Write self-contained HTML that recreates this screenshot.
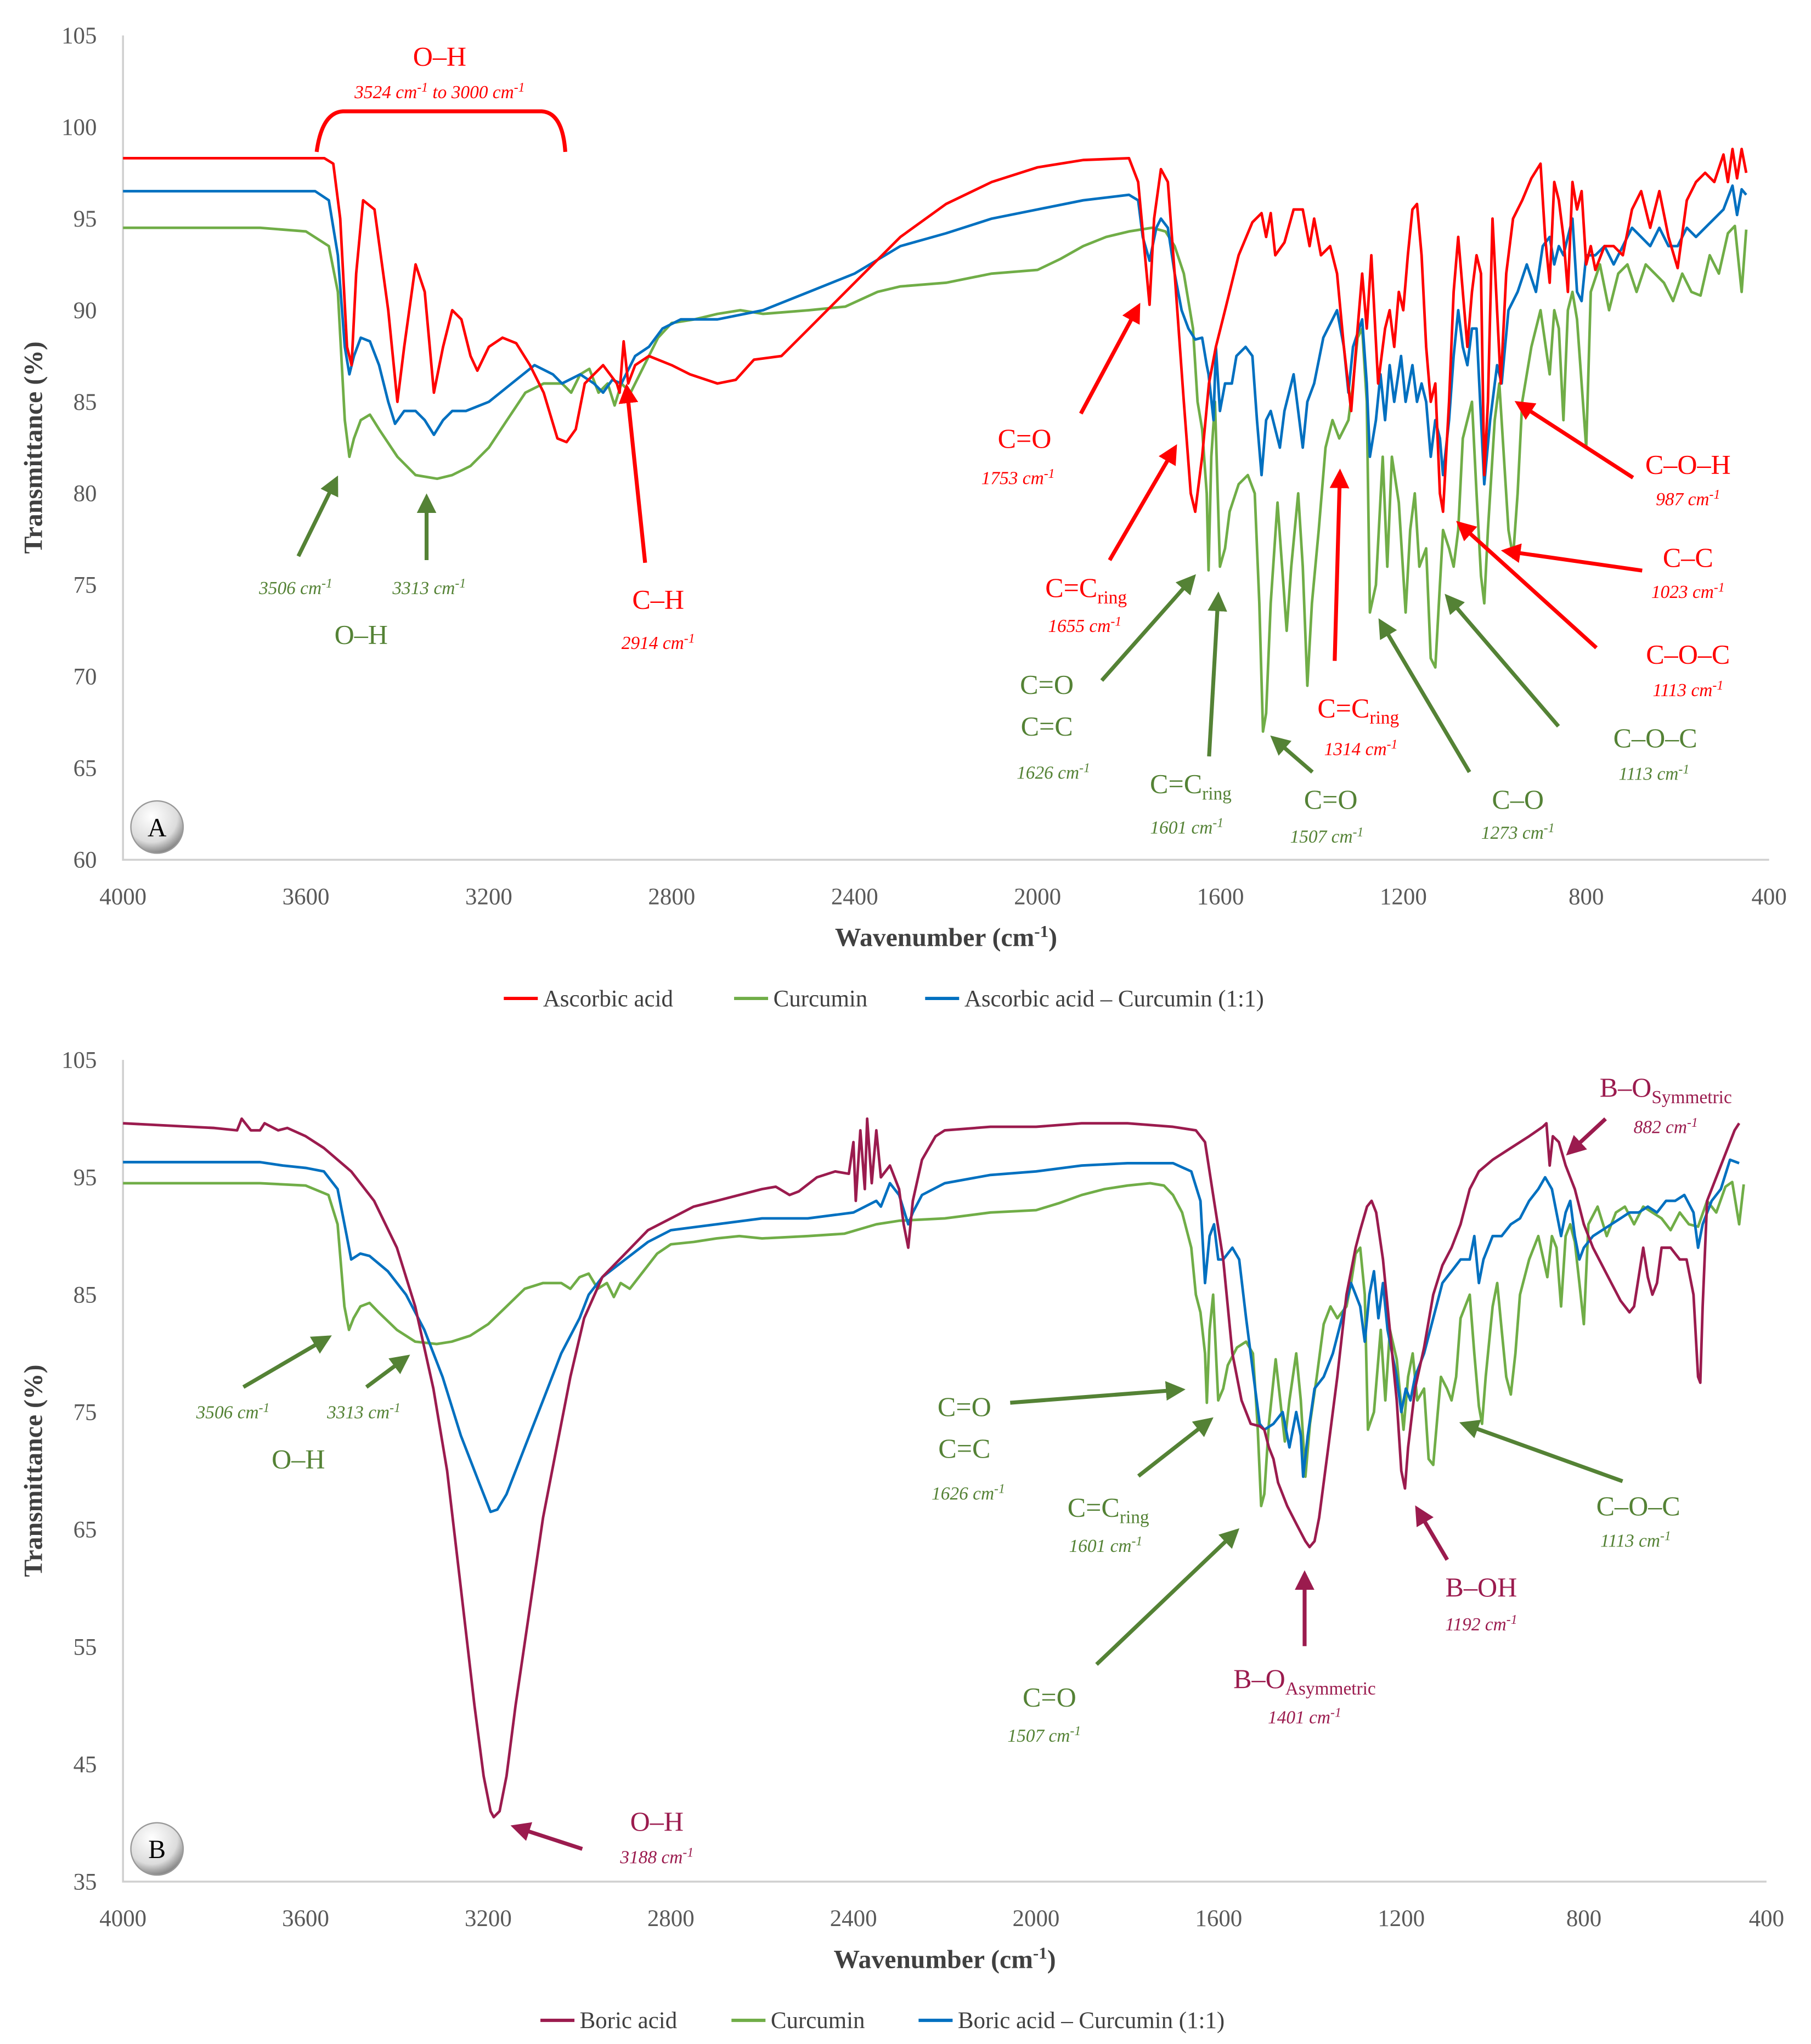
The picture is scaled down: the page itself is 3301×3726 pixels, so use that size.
<!DOCTYPE html>
<html><head><meta charset="utf-8"><style>
html,body{margin:0;padding:0;background:#fff}
svg{display:block}
text{font-family:"Liberation Serif",serif}
.tk{fill:#595959;font-size:18px}
.ttl{fill:#404040;font-size:20px;font-weight:bold}
.lg{fill:#404040;font-size:18px}
.big{font-size:21px}
.sm{font-size:14px;font-style:italic}
.r{fill:#ff0000}.g{fill:#548235}.m{fill:#9b1b4e}
</style></head><body>
<svg id="svg" width="3301" height="3726" viewBox="0 0 1384 1562" xmlns="http://www.w3.org/2000/svg">
<defs>
<marker id="ar" markerWidth="5" markerHeight="5" refX="4" refY="2.5" orient="auto" markerUnits="strokeWidth"><path d="M0,0L5,2.5L0,5z" fill="#ff0000"/></marker>
<marker id="ag" markerWidth="5" markerHeight="5" refX="4" refY="2.5" orient="auto" markerUnits="strokeWidth"><path d="M0,0L5,2.5L0,5z" fill="#548235"/></marker>
<marker id="am" markerWidth="5" markerHeight="5" refX="4" refY="2.5" orient="auto" markerUnits="strokeWidth"><path d="M0,0L5,2.5L0,5z" fill="#9b1b4e"/></marker>
<radialGradient id="bd" cx="40%" cy="30%" r="70%"><stop offset="0" stop-color="#ffffff"/><stop offset="0.7" stop-color="#dcdcdc"/><stop offset="1" stop-color="#888"/></radialGradient>
</defs>
<g id="chartA"></g>
<g id="chartB"></g>

<!-- Annotations A -->
<g stroke-width="3" fill="none">
<path d="M242,116 Q246,86 262,85 L414,85 Q430,86 432,116" stroke="#ff0000"/>
<line x1="228" y1="425" x2="257" y2="366" stroke="#548235" marker-end="url(#ag)"/>
<line x1="326" y1="428" x2="326" y2="380" stroke="#548235" marker-end="url(#ag)"/>
<line x1="493" y1="430" x2="479" y2="296" stroke="#ff0000" marker-end="url(#ar)"/>
<line x1="826" y1="316" x2="870" y2="234" stroke="#ff0000" marker-end="url(#ar)"/>
<line x1="848" y1="428" x2="898" y2="342" stroke="#ff0000" marker-end="url(#ar)"/>
<line x1="842" y1="520" x2="912" y2="441" stroke="#548235" marker-end="url(#ag)"/>
<line x1="924" y1="578" x2="931" y2="455" stroke="#548235" marker-end="url(#ag)"/>
<line x1="1003" y1="590" x2="973" y2="564" stroke="#548235" marker-end="url(#ag)"/>
<line x1="1020" y1="505" x2="1024" y2="361" stroke="#ff0000" marker-end="url(#ar)"/>
<line x1="1123" y1="590" x2="1055" y2="475" stroke="#548235" marker-end="url(#ag)"/>
<line x1="1191" y1="555" x2="1106" y2="456" stroke="#548235" marker-end="url(#ag)"/>
<line x1="1220" y1="495" x2="1115" y2="400" stroke="#ff0000" marker-end="url(#ar)"/>
<line x1="1255" y1="436" x2="1150" y2="421" stroke="#ff0000" marker-end="url(#ar)"/>
<line x1="1248" y1="365" x2="1160" y2="308" stroke="#ff0000" marker-end="url(#ar)"/>
</g>
<g text-anchor="middle">
<text x="336" y="50" class="big r">O–H</text>
<text x="336" y="75" class="sm r">3524 cm<tspan dy="-5" font-size="10">-1</tspan><tspan dy="5"> to 3000 cm</tspan><tspan dy="-5" font-size="10">-1</tspan></text>
<text x="226" y="454" class="sm g">3506 cm<tspan dy="-5" font-size="10">-1</tspan></text>
<text x="328" y="454" class="sm g">3313 cm<tspan dy="-5" font-size="10">-1</tspan></text>
<text x="276" y="492" class="big g">O–H</text>
<text x="503" y="465" class="big r">C–H</text>
<text x="503" y="496" class="sm r">2914 cm<tspan dy="-5" font-size="10">-1</tspan></text>
<text x="783" y="342" class="big r">C=O</text>
<text x="778" y="370" class="sm r">1753 cm<tspan dy="-5" font-size="10">-1</tspan></text>
<text x="830" y="456" class="big r">C=C<tspan dy="5" font-size="14">ring</tspan></text>
<text x="829" y="483" class="sm r">1655 cm<tspan dy="-5" font-size="10">-1</tspan></text>
<text x="800" y="530" class="big g">C=O</text>
<text x="800" y="562" class="big g">C=C</text>
<text x="805" y="595" class="sm g">1626 cm<tspan dy="-5" font-size="10">-1</tspan></text>
<text x="910" y="606" class="big g">C=C<tspan dy="5" font-size="14">ring</tspan></text>
<text x="907" y="637" class="sm g">1601 cm<tspan dy="-5" font-size="10">-1</tspan></text>
<text x="1017" y="618" class="big g">C=O</text>
<text x="1014" y="644" class="sm g">1507 cm<tspan dy="-5" font-size="10">-1</tspan></text>
<text x="1038" y="548" class="big r">C=C<tspan dy="5" font-size="14">ring</tspan></text>
<text x="1040" y="577" class="sm r">1314 cm<tspan dy="-5" font-size="10">-1</tspan></text>
<text x="1160" y="618" class="big g">C–O</text>
<text x="1160" y="641" class="sm g">1273 cm<tspan dy="-5" font-size="10">-1</tspan></text>
<text x="1265" y="571" class="big g">C–O–C</text>
<text x="1264" y="596" class="sm g">1113 cm<tspan dy="-5" font-size="10">-1</tspan></text>
<text x="1290" y="507" class="big r">C–O–C</text>
<text x="1290" y="532" class="sm r">1113 cm<tspan dy="-5" font-size="10">-1</tspan></text>
<text x="1290" y="433" class="big r">C–C</text>
<text x="1290" y="457" class="sm r">1023 cm<tspan dy="-5" font-size="10">-1</tspan></text>
<text x="1290" y="362" class="big r">C–O–H</text>
<text x="1290" y="386" class="sm r">987 cm<tspan dy="-5" font-size="10">-1</tspan></text>
</g>
<g><ellipse cx="120" cy="632" rx="20" ry="20" fill="url(#bd)" stroke="#999"/><text x="120" y="639" text-anchor="middle" font-size="20">A</text></g>

<!-- Annotations B -->
<g stroke-width="3" fill="none">
<line x1="186" y1="1060" x2="251" y2="1022" stroke="#548235" marker-end="url(#ag)"/>
<line x1="280" y1="1060" x2="311" y2="1037" stroke="#548235" marker-end="url(#ag)"/>
<line x1="445" y1="1413" x2="393" y2="1396" stroke="#9b1b4e" marker-end="url(#am)"/>
<line x1="772" y1="1072" x2="903" y2="1062" stroke="#548235" marker-end="url(#ag)"/>
<line x1="870" y1="1128" x2="925" y2="1085" stroke="#548235" marker-end="url(#ag)"/>
<line x1="838" y1="1272" x2="945" y2="1170" stroke="#548235" marker-end="url(#ag)"/>
<line x1="997" y1="1258" x2="997" y2="1203" stroke="#9b1b4e" marker-end="url(#am)"/>
<line x1="1106" y1="1192" x2="1083" y2="1153" stroke="#9b1b4e" marker-end="url(#am)"/>
<line x1="1240" y1="1132" x2="1118" y2="1088" stroke="#548235" marker-end="url(#ag)"/>
<line x1="1227" y1="855" x2="1199" y2="881" stroke="#9b1b4e" marker-end="url(#am)"/>
</g>
<g text-anchor="middle">
<text x="178" y="1084" class="sm g">3506 cm<tspan dy="-5" font-size="10">-1</tspan></text>
<text x="278" y="1084" class="sm g">3313 cm<tspan dy="-5" font-size="10">-1</tspan></text>
<text x="228" y="1122" class="big g">O–H</text>
<text x="502" y="1399" class="big m">O–H</text>
<text x="502" y="1424" class="sm m">3188 cm<tspan dy="-5" font-size="10">-1</tspan></text>
<text x="737" y="1082" class="big g">C=O</text>
<text x="737" y="1114" class="big g">C=C</text>
<text x="740" y="1146" class="sm g">1626 cm<tspan dy="-5" font-size="10">-1</tspan></text>
<text x="847" y="1159" class="big g">C=C<tspan dy="5" font-size="14">ring</tspan></text>
<text x="845" y="1186" class="sm g">1601 cm<tspan dy="-5" font-size="10">-1</tspan></text>
<text x="802" y="1304" class="big g">C=O</text>
<text x="798" y="1331" class="sm g">1507 cm<tspan dy="-5" font-size="10">-1</tspan></text>
<text x="997" y="1290" class="big m">B–O<tspan dy="5" font-size="14">Asymmetric</tspan></text>
<text x="997" y="1317" class="sm m">1401 cm<tspan dy="-5" font-size="10">-1</tspan></text>
<text x="1132" y="1220" class="big m">B–OH</text>
<text x="1132" y="1246" class="sm m">1192 cm<tspan dy="-5" font-size="10">-1</tspan></text>
<text x="1252" y="1158" class="big g">C–O–C</text>
<text x="1250" y="1182" class="sm g">1113 cm<tspan dy="-5" font-size="10">-1</tspan></text>
<text x="1273" y="838" class="big m">B–O<tspan dy="5" font-size="14">Symmetric</tspan></text>
<text x="1273" y="866" class="sm m">882 cm<tspan dy="-5" font-size="10">-1</tspan></text>
</g>
<g><ellipse cx="120" cy="1413" rx="20" ry="20" fill="url(#bd)" stroke="#999"/><text x="120" y="1420" text-anchor="middle" font-size="20">B</text></g>
</svg>
<script>
const xTicks = [4000,3600,3200,2800,2400,2000,1600,1200,800,400];
const yTicksA = [105,100,95,90,85,80,75,70,65,60];
const yTicksB = [105,95,85,75,65,55,45,35];
const seriesNamesA = ["Ascorbic acid","Curcumin","Ascorbic acid – Curcumin (1:1)"];
const seriesNamesB = ["Boric acid","Curcumin","Boric acid – Curcumin (1:1)"];
const ascorbicW = [4000,3560,3540,3525,3510,3500,3490,3475,3450,3420,3400,3385,3360,3340,3320,3300,3280,3260,3240,3225,3200,3170,3140,3110,3080,3050,3030,3010,2990,2970,2950,2920,2914,2905,2895,2880,2850,2800,2760,2700,2660,2620,2560,2500,2400,2300,2200,2100,2000,1900,1800,1780,1765,1755,1745,1730,1715,1700,1680,1665,1655,1640,1625,1610,1590,1560,1530,1510,1500,1490,1480,1460,1440,1420,1405,1395,1380,1360,1345,1330,1314,1300,1290,1280,1270,1255,1240,1230,1220,1210,1200,1190,1180,1170,1160,1150,1140,1130,1120,1113,1100,1090,1080,1070,1060,1050,1040,1030,1023,1015,1005,995,987,975,960,940,920,900,890,880,870,860,850,840,830,820,810,800,790,780,760,740,720,700,680,660,640,620,600,580,560,540,520,500,490,480,470,460,450];
const ascorbicT = [98.3,98.3,98,95,88,87,92,96,95.5,90,85,88,92.5,91,85.5,88,90,89.5,87.5,86.7,88,88.5,88.2,87,85.5,83,82.8,83.5,86,86.5,87,86,85.5,88.3,86,87,87.5,87,86.5,86,86.2,87.3,87.5,89,91.5,94,95.8,97,97.8,98.2,98.3,97,93,90.3,95,97.7,97,92,85,80,79,82,86,88,90,93,94.8,95.3,94,95.3,93,93.7,95.5,95.5,93.5,95,93,93.5,92,88,84.5,89,92,89,93,86,89,90,88,91,90,93,95.5,95.8,93,88,85,86,80,79,85,91,94,91,88,91,93,92,81,85,95,90,86,92,95,96,97.2,98,94,91.5,97,96,94,91,97,95.5,96.5,92.5,93.5,92.2,93.5,93.5,93,95.5,96.5,94.5,96.5,94,92.3,96,97,97.5,97,98.5,97,98.8,97.2,98.8,97.5];
const curcuminW = [4000,3700,3600,3550,3530,3515,3505,3495,3480,3460,3440,3400,3360,3313,3280,3240,3200,3160,3120,3080,3040,3020,3000,2980,2960,2940,2925,2910,2890,2860,2830,2800,2750,2700,2650,2600,2500,2420,2350,2300,2200,2100,2000,1950,1900,1850,1800,1750,1720,1700,1680,1660,1650,1640,1630,1626,1620,1612,1601,1590,1580,1560,1540,1525,1515,1507,1500,1490,1475,1465,1455,1445,1430,1420,1410,1400,1385,1370,1355,1340,1320,1310,1300,1290,1280,1273,1260,1245,1235,1225,1210,1195,1185,1175,1165,1150,1140,1130,1120,1113,1100,1090,1080,1070,1060,1050,1040,1030,1023,1015,1000,990,980,970,960,950,940,920,900,880,870,860,850,840,830,820,810,800,790,770,750,730,710,690,670,650,630,610,590,570,550,530,510,490,475,460,450];
const curcuminT = [94.5,94.5,94.3,93.5,91,84,82,83,84,84.3,83.5,82,81,80.8,81,81.5,82.5,84,85.5,86,86,85.5,86.5,86.8,85.5,86,84.8,86,85.5,87,88.5,89.3,89.5,89.8,90,89.8,90,90.2,91,91.3,91.5,92,92.2,92.8,93.5,94,94.3,94.5,94.3,93.5,92,89,85,83.5,80,75.8,82,85,76,77,79,80.5,81,80,74,67,68,74,79.5,76,72.5,76,80,76,69.5,74,78,82.5,84,83,84,86,88.5,89,85,73.5,75,82,76,82,79.5,73.5,78,80,76,77,71,70.5,75,78,77,76,78,83,84,85,80,75.5,74,78,84,86,82,78,76.5,80,85,88,90,86.5,90,89,84,90,91,89.5,86,82.5,91,92.5,90,92,92.5,91,92.5,92,91.5,90.5,92,91,90.8,93,92,94.2,94.6,91,94.4];
const mixAW = [4000,3580,3550,3530,3515,3505,3495,3480,3460,3440,3420,3405,3385,3360,3340,3320,3300,3280,3250,3200,3150,3100,3060,3040,3000,2970,2950,2930,2910,2880,2850,2820,2780,2700,2600,2500,2400,2300,2200,2100,2000,1900,1800,1780,1770,1755,1740,1730,1715,1700,1685,1670,1655,1640,1630,1626,1615,1610,1601,1590,1575,1565,1545,1530,1520,1510,1500,1490,1470,1460,1440,1430,1420,1410,1395,1375,1355,1345,1330,1320,1310,1290,1280,1273,1260,1250,1240,1230,1220,1205,1195,1180,1170,1160,1150,1140,1130,1120,1113,1100,1090,1080,1070,1060,1050,1040,1023,1010,995,985,970,950,930,910,895,880,870,860,850,840,830,820,810,800,780,760,740,720,700,680,660,640,620,600,580,560,540,520,500,480,470,460,450];
const mixAT = [96.5,96.5,96,93,88,86.5,87.5,88.5,88.3,87,85,83.8,84.5,84.5,84,83.2,84,84.5,84.5,85,86,87,86.5,86,86.5,86,85.5,86.2,86,87.5,88,89,89.5,89.5,90,91,92,93.5,94.2,95,95.5,96,96.3,96,94,92.7,94.5,95,94.5,92,90,89,88.4,88.5,87,86.5,84,88,84.5,86,86,87.5,88,87.5,84,81,84,84.5,82.5,84.5,86.5,84.5,82.5,85,86,88.5,89.5,90,88,85.5,88,89.5,86,82,84,86.5,84,87,85,87.5,85,87,85,86,85,82,84,83,81,84,87.5,90,88,87,89,89,80.5,84,87,86,90,91,92.5,91,93.5,94,92.5,93.5,93,94,95,91,90.5,93,93,93.5,92.5,93.5,94.5,94,93.5,94.5,93.5,93.5,94.5,94,94.5,95,95.5,96.8,95.2,96.6,96.3];
const boricW = [4000,3800,3750,3740,3720,3700,3690,3660,3640,3600,3560,3500,3450,3400,3360,3320,3290,3260,3230,3210,3195,3188,3175,3160,3140,3110,3080,3050,3020,2990,2950,2900,2850,2800,2750,2700,2650,2600,2570,2540,2520,2480,2440,2410,2400,2395,2385,2375,2370,2360,2350,2340,2320,2300,2290,2280,2270,2250,2220,2200,2100,2000,1900,1800,1700,1650,1630,1610,1590,1570,1550,1530,1510,1500,1490,1480,1470,1450,1430,1410,1401,1390,1380,1360,1340,1320,1300,1290,1275,1265,1255,1240,1230,1220,1210,1200,1192,1185,1170,1150,1130,1110,1090,1070,1050,1030,1000,960,920,890,882,875,868,855,840,820,800,780,760,740,720,700,690,670,660,650,640,630,610,600,590,575,560,550,545,540,530,510,490,470,460];
const boricT = [99.6,99.2,99,100,99,99,99.6,99,99.2,98.5,97.5,95.5,93,89,84,77,70,60,50,44,41,40.5,41,44,50,58,66,72,78,83,86.5,88.5,90.5,91.5,92.5,93,93.5,94,94.2,93.5,93.8,95,95.5,95.3,98,93,99,94,100,94.5,99,95,96,94,91,89,93,96.5,98.5,99,99.3,99.3,99.6,99.6,99.3,99,98,93,88,80,76,74,73.8,73.5,72,71,69,67,65.5,64,63.5,64,66,72,78,85,89,90.5,92.5,93,92,88,84,80,76,70,68.5,72,77,80.5,85,87.5,89,91,94,95.5,96.5,97.5,98.5,99.3,99.6,96,98.5,98,96,94,91,89,87.5,86,84.5,83.5,84,89,86.5,85,86,89,89,88.5,88,88,85,78,77.5,84,93,95,97,99,99.6];
const mixBW = [4000,3700,3650,3600,3560,3530,3510,3500,3480,3460,3420,3380,3340,3300,3260,3220,3195,3180,3160,3120,3080,3040,3000,2980,2950,2900,2850,2800,2700,2600,2500,2400,2350,2340,2320,2300,2280,2270,2250,2200,2100,2000,1900,1800,1700,1660,1640,1630,1620,1610,1601,1590,1570,1555,1540,1520,1510,1500,1480,1460,1445,1430,1420,1415,1405,1390,1370,1350,1330,1310,1300,1290,1280,1270,1260,1250,1240,1230,1220,1210,1200,1190,1180,1170,1150,1130,1110,1090,1070,1050,1040,1030,1020,1000,980,960,940,920,900,885,870,860,850,840,830,820,810,800,780,760,740,720,700,680,660,640,620,600,580,560,550,540,520,500,480,460];
const mixBT = [96.3,96.3,96,95.8,95.5,94,90,88,88.5,88.3,87,85,82,78,73,69,66.5,66.7,68,72,76,80,83,85,86.5,88,89.5,90.5,91,91.5,91.5,92,93,92.5,94.5,93.5,91,92,93.5,94.5,95.2,95.5,96,96.2,96.2,95.5,93,86,90,91,88,88,89,88,83,77,74,73.5,74,75,72,75,73,69.5,73,77,78,80,83,86,85,84,81,85,87,83,86,82,80,78,75,77,76,78,80,83,86,87,88,88,90,86,88,90,90,91,91.5,93,94,95,94,92,90,92,93,90,88,89,90,90.5,91,91.5,92,92,92.5,92,93,93,93.5,92,89,91,93,94,96.5,96.2];

const svg = document.getElementById('svg');
const NS = 'http://www.w3.org/2000/svg';
function mk(tag, attrs, parent, txt){const e=document.createElementNS(NS,tag);for(const k in attrs)e.setAttribute(k,attrs[k]);if(txt!==undefined)e.textContent=txt;parent.appendChild(e);return e;}

function drawChart(g, cfg){
  const xs = w => cfg.x0 + (4000-w)/3600*(cfg.x1-cfg.x0);
  const ys = t => cfg.y0 + (cfg.tmax-t)/(cfg.tmax-cfg.tmin)*(cfg.y1-cfg.y0);
  const ax = mk('path',{d:`M${cfg.x0},${cfg.y0}V${cfg.y1}H${cfg.x1}`,stroke:'#d0d0d0','stroke-width':1.5,fill:'none'},g);
  
  
  xTicks.forEach(v=>{
    const t=mk('text',{x:xs(v),y:cfg.y1+34,'text-anchor':'middle',class:'tk'},g,String(v));
    
    
  });
  cfg.yTicks.forEach(v=>{
    const t=mk('text',{x:cfg.x0-20,y:ys(v)+6,'text-anchor':'end',class:'tk'},g,String(v));
    
    
  });
  const xt=mk('text',{x:(cfg.x0+cfg.x1)/2,y:cfg.y1+66,'text-anchor':'middle',class:'ttl'},g);
  xt.innerHTML='Wavenumber (cm<tspan dy="-7" font-size="13">-1</tspan><tspan dy="7">)</tspan>';
  
  
  const yt=mk('text',{x:0,y:0,'text-anchor':'middle',class:'ttl',transform:`translate(32,${(cfg.y0+cfg.y1)/2}) rotate(-90)`},g,'Transmittance (%)');
  
  
  cfg.series.forEach(s=>{
    let d='';
    s.w.forEach((w,i)=>{d+=(i?'L':'M')+xs(w).toFixed(1)+','+ys(s.t[i]).toFixed(1);});
    const p=mk('path',{d,stroke:s.color,'stroke-width':2,fill:'none','stroke-linejoin':'round'},g);
    
    
  });
  cfg.legend.forEach(l=>{
    const gl=mk('g',{},g);
    
    
    mk('line',{x1:l.x,x2:l.x+26,y1:cfg.ly,y2:cfg.ly,stroke:l.color,'stroke-width':2.5},gl);
    mk('text',{x:l.x+30,y:cfg.ly+6,class:'lg'},gl,l.name);
  });
}
drawChart(document.getElementById('chartA'),{x0:94,x1:1352,y0:27,y1:657,tmax:105,tmin:60,yTicks:yTicksA,ly:763,
  series:[{id:'curcumin-line-a',w:curcuminW,t:curcuminT,color:'#70ad47'},{id:'mix-line-a',w:mixAW,t:mixAT,color:'#0070c0'},{id:'ascorbic-line',w:ascorbicW,t:ascorbicT,color:'#ff0000'}],
  legend:[{x:385,color:'#ff0000',name:seriesNamesA[0]},{x:561,color:'#70ad47',name:seriesNamesA[1]},{x:707,color:'#0070c0',name:seriesNamesA[2]}]});
drawChart(document.getElementById('chartB'),{x0:94,x1:1350,y0:810,y1:1438,tmax:105,tmin:35,yTicks:yTicksB,ly:1544,
  series:[{id:'curcumin-line-b',w:curcuminW,t:curcuminT,color:'#70ad47'},{id:'mix-line-b',w:mixBW,t:mixBT,color:'#0070c0'},{id:'boric-line',w:boricW,t:boricT,color:'#9b1b4e'}],
  legend:[{x:413,color:'#9b1b4e',name:seriesNamesB[0]},{x:559,color:'#70ad47',name:seriesNamesB[1]},{x:702,color:'#0070c0',name:seriesNamesB[2]}]});
</script>
</body></html>
